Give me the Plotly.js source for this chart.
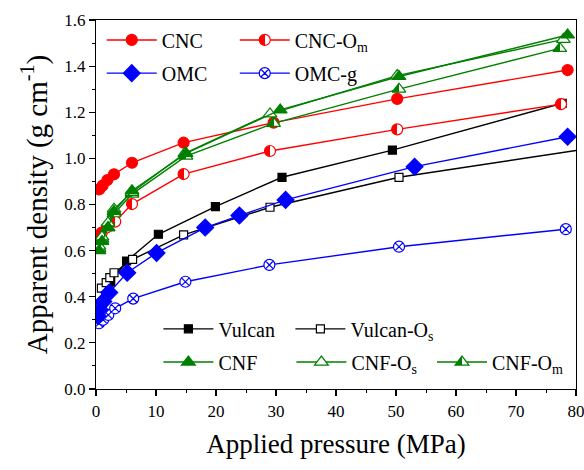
<!DOCTYPE html>
<html>
<head>
<meta charset="utf-8">
<script src="https://cdn.plot.ly/plotly-3.0.1.min.js"></script>
<style>html,body{margin:0;padding:0;background:#fff;}#chart{width:584px;height:470px;}</style>
</head>
<body>
<div id="chart"></div>
<script>
// ---- data ----
const cncX = [0.55, 1.1, 1.9, 3.0, 6.0, 14.6, 29.6, 50.2, 78.6];
const cncY = [0.866, 0.882, 0.906, 0.931, 0.981, 1.068, 1.155, 1.258, 1.383];
const cncOmX = [0.4, 0.95, 1.8, 3.2, 6.0, 14.6, 29.0, 50.2, 77.5];
const cncOmY = [0.665, 0.678, 0.70, 0.726, 0.802, 0.932, 1.032, 1.126, 1.235];
const omcX = [0.3, 0.67, 1.2, 2.2, 5.2, 10.1, 18.2, 23.9, 31.6, 53.1, 78.6];
const omcY = [0.317, 0.343, 0.379, 0.418, 0.504, 0.59, 0.70, 0.752, 0.82, 0.964, 1.094];
const omcGX = [0.5, 1.2, 2.05, 3.2, 6.2, 14.9, 28.9, 50.5, 78.3];
const omcGY = [0.285, 0.30, 0.321, 0.35, 0.392, 0.465, 0.538, 0.617, 0.693];
const vulX = [0.4, 1.0, 1.6, 2.45, 5.1, 10.4, 19.9, 31.0, 49.4, 77.7];
const vulY = [0.315, 0.37, 0.42, 0.463, 0.555, 0.671, 0.791, 0.918, 1.036, 1.239];
const vulOsX = [0.9, 1.7, 2.3, 3.0, 6.1, 14.6, 29.0, 50.5, 81.0];
const vulOsY = [0.437, 0.461, 0.483, 0.504, 0.562, 0.668, 0.788, 0.918, 1.038];
const cnfX = [0.5, 1.0, 2.0, 3.0, 6.0, 15.0, 30.7, 50.5, 78.6];
const cnfY = [0.60, 0.64, 0.70, 0.77, 0.86, 1.022, 1.21, 1.355, 1.535];
const cnfOsX = [0.5, 1.0, 2.0, 3.0, 6.0, 14.8, 29.0, 50.2, 77.9];
const cnfOsY = [0.62, 0.66, 0.72, 0.78, 0.853, 1.022, 1.193, 1.359, 1.516];
const cnfOmX = [0.5, 1.0, 2.0, 3.0, 6.0, 15.0, 29.6, 50.5, 77.3];
const cnfOmY = [0.61, 0.65, 0.70, 0.76, 0.845, 1.01, 1.152, 1.30, 1.477];

const RED = '#ff0000', BLUE = '#0000ff', GREEN = '#008000', BLACK = '#000000';
const LW = 1.4;

// pick the first installed serif font
function pickFont(cands) {
  const c = document.createElement('canvas').getContext('2d');
  const txt = 'Applied pressure (MPa) 0123456789';
  c.font = '40px monospace'; const wm = c.measureText(txt).width;
  c.font = '40px sans-serif'; const ws = c.measureText(txt).width;
  for (const f of cands) {
    c.font = '40px "' + f + '", monospace'; const a = c.measureText(txt).width;
    c.font = '40px "' + f + '", sans-serif'; const b = c.measureText(txt).width;
    if (a !== wm && b !== ws) return f;
  }
  return 'serif';
}
const FONT = pickFont(['Liberation Serif', 'Times New Roman', 'Tinos', 'Nimbus Roman', 'DejaVu Serif', 'Noto Serif', 'FreeSerif']);

function tr(x, y, name, color, marker, legend, rank) {
  return {
    x: x, y: y, name: name, type: 'scatter', mode: 'lines+markers',
    line: {color: color, width: LW},
    marker: Object.assign({color: color, line: {color: color, width: 1.2}}, marker),
    legend: legend, legendrank: rank
  };
}

const data = [
  tr(vulX, vulY, 'Vulcan', BLACK, {symbol: 'square', size: 8}, 'legend3', 1),
  tr(vulOsX, vulOsY, 'Vulcan-O<sub>s</sub>', BLACK, {symbol: 'square', size: 8, color: '#ffffff'}, 'legend6', 1),
  tr(omcGX, omcGY, 'OMC-g', BLUE, {symbol: 'circle-x', size: 11, color: '#ffffff'}, 'legend2', 2),
  tr(omcX, omcY, 'OMC', BLUE, {symbol: 'diamond', size: 13}, 'legend2', 1),
  tr(cncOmX, cncOmY, 'CNC-O<sub>m</sub>', RED, {symbol: 'circle', size: 11, gradient: {type: 'horizontal', color: '#ffffff'}}, 'legend', 2),
  tr(cncX, cncY, 'CNC', RED, {symbol: 'circle', size: 11}, 'legend', 1),
  tr(cnfOmX, cnfOmY, 'CNF-O<sub>m</sub>', GREEN, {symbol: 'triangle-up', size: 12, gradient: {type: 'horizontal', color: '#ffffff'}}, 'legend5', 1),
  tr(cnfOsX, cnfOsY, 'CNF-O<sub>s</sub>', GREEN, {symbol: 'triangle-up', size: 12, color: '#ffffff'}, 'legend4', 2),
  tr(cnfX, cnfY, 'CNF', GREEN, {symbol: 'triangle-up', size: 12}, 'legend4', 1)
];

const legBase = {orientation: 'h', xanchor: 'left', yanchor: 'middle', bgcolor: 'rgba(0,0,0,0)',
  borderwidth: 0, font: {family: FONT, size: 20, color: '#000'}, entrywidthmode: 'pixels',
  traceorder: 'normal', itemwidth: 50};

const layout = {
  width: 584, height: 470,
  margin: {l: 96, r: 8, t: 20, b: 81},
  paper_bgcolor: '#fff', plot_bgcolor: '#fff',
  font: {family: FONT, size: 16, color: '#000'},
  xaxis: {
    range: [0, 80], dtick: 10, tick0: 0, showgrid: false, zeroline: false,
    showline: true, linecolor: '#000', linewidth: 1.2, mirror: true,
    ticks: 'outside', ticklen: 6, tickwidth: 1.2, tickcolor: '#000',
    minor: {dtick: 5, ticks: 'outside', ticklen: 3, tickwidth: 1, tickcolor: '#000'},
    tickfont: {family: FONT, size: 17}, ticklabeloverflow: 'allow',
    title: {text: 'Applied pressure (MPa)', font: {family: FONT, size: 27}, standoff: 14}
  },
  yaxis: {
    range: [0, 1.6], dtick: 0.2, tick0: 0, tickformat: '.1f', showgrid: false, zeroline: false,
    showline: true, linecolor: '#000', linewidth: 1.2, mirror: true,
    ticks: 'outside', ticklen: 6, tickwidth: 1.2, tickcolor: '#000',
    minor: {dtick: 0.1, ticks: 'outside', ticklen: 3, tickwidth: 1, tickcolor: '#000'},
    tickfont: {family: FONT, size: 17}, ticklabeloverflow: 'allow',
    title: {text: 'Apparent density (g cm<sup>-1</sup>)', font: {family: FONT, size: 29}, standoff: 8}
  },
  xaxis2: {
    overlaying: 'x', side: 'top', anchor: 'y', range: [0, 80], dtick: 10, tick0: 0,
    showgrid: false, zeroline: false, showline: false, showticklabels: false,
    ticks: 'inside', ticklen: 5, tickwidth: 1.2, tickcolor: '#000',
    minor: {dtick: 5, ticks: 'inside', ticklen: 3, tickwidth: 1, tickcolor: '#000'}
  },
  yaxis2: {
    overlaying: 'y', side: 'right', anchor: 'x', range: [0, 1.6], dtick: 0.2, tick0: 0,
    showgrid: false, zeroline: false, showline: false, showticklabels: false,
    ticks: 'inside', ticklen: 5, tickwidth: 1.2, tickcolor: '#000',
    minor: {dtick: 0.1, ticks: 'inside', ticklen: 3, tickwidth: 1, tickcolor: '#000'}
  },
  legend: Object.assign({}, legBase, {x: 0.012, y: 0.946, entrywidth: 68}),
  legend2: Object.assign({}, legBase, {x: 0.012, y: 0.856, entrywidth: 68}),
  legend3: Object.assign({}, legBase, {x: 0.13, y: 0.163, entrywidth: 68}),
  legend6: Object.assign({}, legBase, {x: 0.405, y: 0.163, entrywidth: 110}),
  legend4: Object.assign({}, legBase, {x: 0.13, y: 0.073, entrywidth: 68}),
  legend5: Object.assign({}, legBase, {x: 0.70, y: 0.073, entrywidth: 68}),
  showlegend: true
};

Plotly.newPlot('chart', data, layout, {staticPlot: true, displayModeBar: false}).then(function(){
  // turn smooth horizontal gradients into crisp half-filled markers
  document.querySelectorAll('#chart linearGradient').forEach(function(g){
    const stops = g.querySelectorAll('stop');
    if (stops.length !== 2) return;
    const c0 = stops[0].getAttribute('stop-color'), c1 = stops[1].getAttribute('stop-color');
    const o0 = stops[0].getAttribute('stop-opacity'), o1 = stops[1].getAttribute('stop-opacity');
    while (g.firstChild) g.removeChild(g.firstChild);
    [[0,c0,o0],[50,c0,o0],[50,c1,o1],[100,c1,o1]].forEach(function(s){
      const st = document.createElementNS('http://www.w3.org/2000/svg','stop');
      st.setAttribute('offset', s[0] + '%');
      st.setAttribute('stop-color', s[1]);
      if (s[2] !== null) st.setAttribute('stop-opacity', s[2]);
      g.appendChild(st);
    });
  });
});
</script>
</body>
</html>
